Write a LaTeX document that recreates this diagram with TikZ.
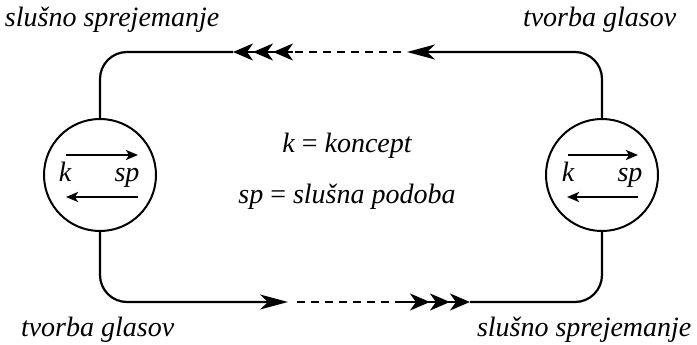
\documentclass[tikz,border=0pt]{standalone}
\usepackage{fontspec}
\setmainfont{Liberation Serif}
\usetikzlibrary{arrows.meta}
\tikzset{
  lbl/.style={font=\fontsize{28}{31}\selectfont\itshape, inner sep=0pt, outer sep=0pt},
  ln/.style={line width=2.2pt, line cap=butt},
  circ/.style={circle, draw, line width=2pt, minimum size=112pt, inner sep=0pt, outer sep=0pt},
  big/.style={-{Stealth[length=28pt,width=15pt,inset=8pt]}},
  triple/.style={-{Stealth[length=20pt,width=17pt,inset=6pt,sep=0pt]Stealth[length=20pt,width=17pt,inset=6pt,sep=0pt]Stealth[length=20pt,width=17pt,inset=6pt,sep=0pt]}},
  small/.style={line width=2.3pt, -{Stealth[length=12pt,width=10pt,inset=3pt]}},
  dsh/.style={dash pattern=on 8pt off 6pt}
}
\begin{document}
\begin{tikzpicture}[x=1pt,y=-1pt]
\useasboundingbox (0,0) rectangle (697,345);
% circles
\node[circ] (L) at (100,175) {};
\node[circ] (R) at (602,175) {};
% texts
\node[lbl, anchor=base west] (t1) at (5,27) {slušno sprejemanje};
\node[lbl, anchor=base west] (t2) at (523,27) {tvorba glasov};
\node[lbl, anchor=base west] (t3) at (21,336) {tvorba glasov};
\node[lbl, anchor=base west] (t4) at (477,336) {slušno sprejemanje};
\node[lbl, anchor=base] (c1) at (347,152) {k {\upshape=} koncept};
\node[lbl, anchor=base] (c2) at (347,203) {sp {\upshape=} slušna podoba};
% circle labels
\node[lbl, anchor=base] (kL) at ([shift={(-35,7)}]L.center) {k};
\node[lbl, anchor=base] (sL) at ([shift={(27,7)}]L.center) {sp};
\node[lbl, anchor=base] (kR) at ([shift={(-34,7)}]R.center) {k};
\node[lbl, anchor=base] (sR) at ([shift={(28,7)}]R.center) {sp};
% inner arrows
\draw[small] ([shift={(-34,-20)}]L.center) -- ([shift={(38,-20)}]L.center);
\draw[small] ([shift={(38,22)}]L.center) -- ([shift={(-34,22)}]L.center);
\draw[small] ([shift={(-34,-20)}]R.center) -- ([shift={(36,-20)}]R.center);
\draw[small] ([shift={(36,22)}]R.center) -- ([shift={(-35,22)}]R.center);
% top connector (right to left)
\coordinate (a1) at (407,52);
\coordinate (d1) at (401,52);
\coordinate (d2) at (293,52);
\coordinate (a2) at (233,52);
\draw[ln, rounded corners=27pt, big] (R.north) |- (a1);
\draw[ln, dsh] (d1) -- (d2);
\draw[ln, triple] (d2) -- (a2);
\draw[ln, rounded corners=27pt] (a2) -| (L.north);
% bottom connector (left to right)
\coordinate (b1) at (288,302);
\coordinate (e1) at (297,302);
\coordinate (e2) at (403,302);
\coordinate (b2) at (470,302);
\draw[ln, rounded corners=27pt, big] (L.south) |- (b1);
\draw[ln, dsh] (e1) -- (e2);
\draw[ln, triple] (e2) -- (b2);
\draw[ln, rounded corners=27pt] (b2) -| (R.south);
\end{tikzpicture}
\end{document}
